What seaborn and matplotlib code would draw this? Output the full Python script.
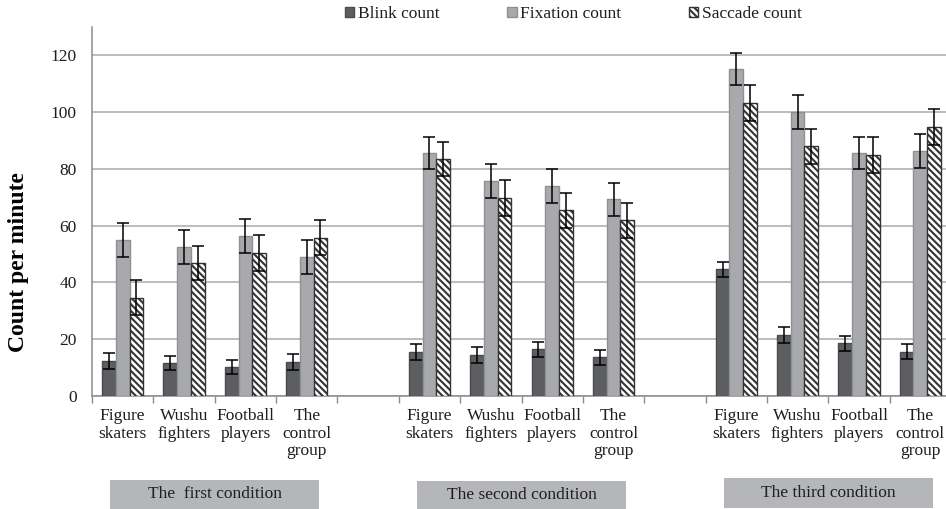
import numpy as np
import pandas as pd
import matplotlib
matplotlib.use("Agg")
import matplotlib.pyplot as plt
from matplotlib.patches import Rectangle
from matplotlib.transforms import blended_transform_factory
import seaborn as sns

# ---- data -------------------------------------------------------------
groups = ["Figure\nskaters", "Wushu\nfighters", "Football\nplayers", "The\ncontrol\ngroup"]
conditions = ["The  first condition", "The second condition", "The third condition"]
measures = ["Blink count", "Fixation count", "Saccade count"]

# values listed condition by condition, four groups each
blink = [12.3, 11.5, 10.1, 12.0, 15.5, 14.4, 16.5, 13.6, 44.6, 21.5, 18.6, 15.6]
blink_err = [2.7, 2.5, 2.5, 2.7, 2.7, 2.7, 2.7, 2.6, 2.5, 2.7, 2.6, 2.6]
fixation = [54.9, 52.5, 56.3, 49.0, 85.6, 75.8, 74.0, 69.3, 115.2, 100.0, 85.6, 86.4]
fixation_err = [5.9, 5.9, 5.9, 5.9, 5.6, 5.9, 5.9, 5.9, 5.6, 5.9, 5.6, 6.0]
saccade = [34.7, 46.9, 50.4, 55.7, 83.5, 69.8, 65.4, 61.9, 103.2, 88.0, 84.9, 94.8]
saccade_err = [6.3, 6.1, 6.2, 6.2, 6.0, 6.4, 6.2, 6.2, 6.2, 6.2, 6.3, 6.2]

yticks = [0, 20, 40, 60, 80, 100, 120]

# ---- style ------------------------------------------------------------
sns.set_theme(style="white")
plt.rcParams["font.family"] = "serif"
plt.rcParams["font.serif"] = ["Liberation Serif", "Times New Roman", "DejaVu Serif"]
plt.rcParams["hatch.linewidth"] = 1.5
text_color = "#1e1e1e"
axis_gray = "#8c8c8c"

face = {"Blink count": "#5d5e62", "Fixation count": "#a8a9ad", "Saccade count": "#ffffff"}
edge = {"Blink count": "#4a4b4e", "Fixation count": "#8f9094", "Saccade count": "#333333"}
hatch = {"Blink count": None, "Fixation count": None, "Saccade count": "\\\\\\\\\\"}

# ---- long table: one empty slot between conditions --------------------
slot_ids, slot_labels = [], []
for ci in range(len(conditions)):
    for gi, g in enumerate(groups):
        slot_ids.append(f"c{ci}g{gi}")
        slot_labels.append(g)
    if ci < len(conditions) - 1:
        slot_ids.append(f"gap{ci}")
        slot_labels.append("")

rows = []
k = 0
series = {"Blink count": (blink, blink_err),
          "Fixation count": (fixation, fixation_err),
          "Saccade count": (saccade, saccade_err)}
for ci in range(len(conditions)):
    for gi in range(len(groups)):
        for m in measures:
            vals, errs = series[m]
            rows.append({"slot": f"c{ci}g{gi}", "measure": m,
                         "value": vals[k], "err": errs[k]})
        k += 1
df = pd.DataFrame(rows)
err_lookup = {(r.slot, r.measure): r.err for r in df.itertuples()}

# ---- figure -----------------------------------------------------------
fig = plt.figure(figsize=(9.46, 5.09), dpi=100)
ax = fig.add_axes([92 / 946, 113 / 509, 859 / 946, 369 / 509])

sns.barplot(data=df, x="slot", y="value", hue="measure", order=slot_ids,
            hue_order=measures, palette=face, saturation=1, width=0.67,
            errorbar=None, legend=False, ax=ax, zorder=3)

bar_containers = list(ax.containers)
xs, hs, es = [], [], []
for m, cont in zip(measures, bar_containers):
    for bar in cont:
        h = bar.get_height()
        if not np.isfinite(h):
            continue
        bar.set_edgecolor(edge[m])
        bar.set_linewidth(1.0)
        if hatch[m]:
            bar.set_hatch(hatch[m])
        xc = bar.get_x() + bar.get_width() / 2
        slot = slot_ids[int(round(xc))]
        xs.append(xc)
        hs.append(h)
        es.append(err_lookup[(slot, m)])

ax.errorbar(xs, hs, yerr=es, fmt="none", ecolor="black", elinewidth=1.1,
            capsize=4, capthick=1.1, zorder=4)

# ---- axes -------------------------------------------------------------
ax.set_xlim(-0.5, len(slot_ids) - 0.5)
ax.set_ylim(0, 130)
ax.set_yticks(yticks)
ax.set_yticklabels([str(t) for t in yticks], fontsize=12.5, color=text_color)
ax.tick_params(axis="y", length=0, pad=11)

ax.set_xticks(range(len(slot_ids)))
ax.set_xticklabels(slot_labels, fontsize=12.5, color=text_color, linespacing=1.12)
ax.set_xticks(np.arange(-0.5, len(slot_ids)), minor=True)
ax.tick_params(axis="x", which="major", length=0, pad=9)
ax.tick_params(axis="x", which="minor", bottom=True, length=5, width=1,
               color=axis_gray, direction="out")
ax.set_xlabel("")

ax.set_axisbelow(True)
ax.yaxis.grid(True, color="#a9a9a9", linewidth=1.1)
ax.xaxis.grid(False)
for s in ["top", "right"]:
    ax.spines[s].set_visible(False)
for s in ["left", "bottom"]:
    ax.spines[s].set_color(axis_gray)
    ax.spines[s].set_linewidth(1.1)

ax.set_ylabel("Count per minute", fontsize=17, fontweight="bold", color="black")
ax.yaxis.label.set_va("center")
ax.yaxis.set_label_coords(-0.086, 0.364)

# ---- legend -----------------------------------------------------------
fig.legend(bar_containers, measures, loc="center", bbox_to_anchor=(0.606, 0.972),
           ncol=3, frameon=False, fontsize=12.5, handlelength=0.55,
           handleheight=0.55, handletextpad=0.2, columnspacing=3.9,
           borderpad=0, borderaxespad=0, labelcolor=text_color)

# ---- condition boxes under each block of groups ------------------------
trans = blended_transform_factory(ax.transData, fig.transFigure)
box_tops = [480, 481, 478]
box_bottoms = [509, 509, 508]
n = len(groups)
for ci, label in enumerate(conditions):
    center = ci * (n + 1) + (n - 1) / 2
    half = 1.7
    y0 = 1 - box_bottoms[ci] / 509
    y1 = 1 - box_tops[ci] / 509
    ax.add_patch(Rectangle((center - half, y0), 2 * half, y1 - y0,
                           transform=trans, facecolor="#b4b6b9",
                           edgecolor="none", clip_on=False))
    ax.text(center, (y0 + y1) / 2, label, transform=trans, ha="center",
            va="center", fontsize=12.5, color=text_color)

fig.savefig("out.png", dpi=100)
